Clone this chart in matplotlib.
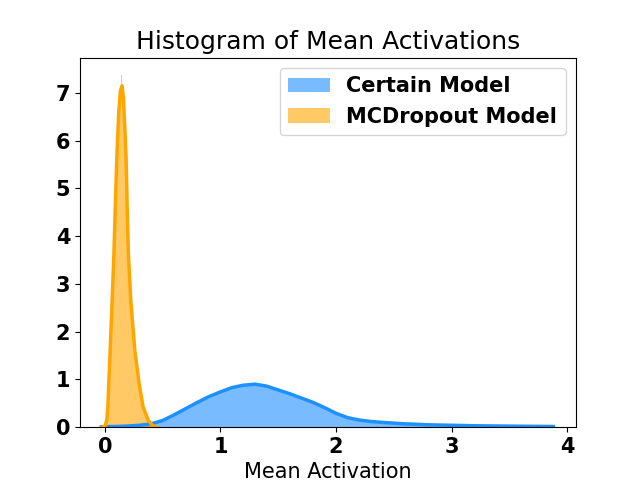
import matplotlib
matplotlib.use("Agg")
import matplotlib.pyplot as plt
import numpy as np

# Certain model: histogram (density), bin width 0.05
certain_centers = np.arange(78) * 0.05
certain_hist = [
    0.01, 0.01, 0.015, 0.015, 0.02, 0.025, 0.035, 0.05, 0.07, 0.10,
    0.14, 0.20, 0.26, 0.32, 0.39, 0.46, 0.52, 0.58, 0.65, 0.69,
    0.75, 0.80, 0.83, 0.86, 0.88, 0.90, 0.91, 0.88, 0.86, 0.82,
    0.77, 0.76, 0.70, 0.66, 0.62, 0.57, 0.52, 0.47, 0.41, 0.35,
    0.29, 0.24, 0.20, 0.17, 0.15, 0.13, 0.12, 0.11, 0.10, 0.095,
    0.085, 0.08, 0.075, 0.065, 0.06, 0.055, 0.05, 0.048, 0.045, 0.04,
    0.04, 0.035, 0.033, 0.03, 0.03, 0.028, 0.026, 0.025, 0.024, 0.022,
    0.02, 0.02, 0.018, 0.017, 0.016, 0.015, 0.014, 0.012,
]
certain_kde_x = [-0.03, 0.1, 0.2, 0.3, 0.4, 0.5, 0.6, 0.7, 0.8, 0.9, 1.0, 1.1,
                 1.2, 1.3, 1.4, 1.5, 1.6, 1.7, 1.8, 1.9, 2.0, 2.1, 2.2, 2.3,
                 2.4, 2.5, 2.6, 2.7, 2.8, 3.0, 3.2, 3.4, 3.6, 3.88]
certain_kde_y = [0.01, 0.015, 0.025, 0.04, 0.07, 0.14, 0.26, 0.39, 0.52, 0.64,
                 0.74, 0.83, 0.88, 0.90, 0.86, 0.78, 0.70, 0.61, 0.52, 0.41,
                 0.29, 0.20, 0.15, 0.12, 0.10, 0.085, 0.07, 0.06, 0.05, 0.04,
                 0.03, 0.025, 0.02, 0.015]

# MCDropout model: histogram, bin width 0.01
mc_centers = 0.005 + np.arange(45) * 0.01
mc_hist = [
    0.05, 0.12, 0.4, 0.95, 1.55, 2.1, 2.8, 3.4, 4.2, 5.0,
    5.7, 6.3, 6.8, 7.1, 7.37, 7.0, 6.6, 6.0, 5.4, 4.4,
    3.6, 3.0, 2.6, 2.3, 1.95, 1.7, 1.45, 1.25, 1.05, 0.92,
    0.75, 0.62, 0.48, 0.4, 0.32, 0.25, 0.18, 0.14, 0.1, 0.07,
    0.05, 0.03, 0.02, 0.01, 0.01,
]
mc_kde_x = [-0.03, 0.0, 0.017, 0.026, 0.034, 0.046, 0.063, 0.078, 0.09, 0.103,
            0.12, 0.135, 0.149, 0.16, 0.172, 0.184, 0.195, 0.204, 0.224, 0.259,
            0.296, 0.33, 0.374, 0.41, 0.45]
mc_kde_y = [0.0, 0.02, 0.15, 0.43, 0.92, 1.61, 2.66, 3.6, 4.6, 5.6,
            6.6, 7.05, 7.15, 6.9, 6.3, 5.6, 4.4, 3.6, 2.66, 1.61,
            0.92, 0.43, 0.15, 0.04, 0.0]

xticks = [0, 1, 2, 3, 4]

fig, ax = plt.subplots(figsize=(6.4, 4.8), dpi=100)

ax.bar(certain_centers, certain_hist, width=0.05, color="dodgerblue",
       alpha=0.6, linewidth=0, label="Certain Model")
ax.plot(certain_kde_x, certain_kde_y, color="dodgerblue", lw=2.5)

ax.bar(mc_centers, mc_hist, width=0.01, color="orange",
       alpha=0.6, linewidth=0, label="MCDropout Model")
ax.plot(mc_kde_x, mc_kde_y, color="orange", lw=2.5)

ax.set_xlim(-0.215, 4.075)
ax.set_ylim(0, 7.74)
ax.set_xticks(xticks)
ax.set_title("Histogram of Mean Activations", fontsize=18)
ax.set_xlabel("Mean Activation", fontsize=15)
for lab in ax.get_xticklabels() + ax.get_yticklabels():
    lab.set_fontsize(15)
    lab.set_fontweight("bold")
ax.legend(loc="upper right", prop={"size": 15, "weight": "bold"})

fig.savefig("out.png", dpi=100)
